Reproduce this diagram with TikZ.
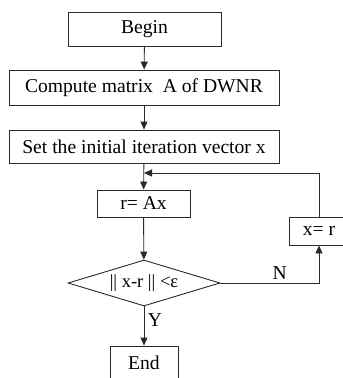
\documentclass[tikz,border=0pt]{standalone}
\usepackage{fontspec}
\setmainfont{Liberation Serif}
\usepackage{xcolor}
\usepackage{tikz}
\usetikzlibrary{arrows.meta,shapes.geometric}
\definecolor{trait}{HTML}{2A2A2A}
\tikzset{
  bloc/.style={
    rectangle, draw=trait, fill=white, line width=0.9pt,
    align=center, inner sep=0pt, font=\fontsize{19.6}{22}\selectfont},
  decision/.style={
    diamond, aspect=3.3, draw=trait, fill=white, line width=0.9pt,
    inner sep=0pt, minimum width=152pt, minimum height=46pt,
    font=\fontsize{18.5}{21}\selectfont},
  fleche/.style={-{Triangle[length=8pt,width=7pt]}, draw=trait, line width=0.9pt},
  etiquette/.style={font=\fontsize{19.6}{22}\selectfont}
}
\begin{document}
\begin{tikzpicture}[x=1pt,y=-1pt]
  \clip (0,0) rectangle (343,378);

  % --- Colonne principale
  \node[bloc, minimum width=153pt, minimum height=34pt] (B) at (144.5, 29)  {Begin};
  \node[bloc, minimum width=270pt, minimum height=35pt] (C) at (144, 87.5)  {Compute matrix\ \ A of DWNR};
  \node[bloc, minimum width=270pt, minimum height=33pt] (I) at (144, 146.5) {Set the initial iteration vector x};
  \node[bloc, minimum width=93pt,  minimum height=27pt] (R) at (143.5, 203.5) {r= Ax};
  \node[decision]                                      (T) at (144, 283)   {|| x-r || <ε};
  \node[bloc, minimum width=68pt,  minimum height=34pt] (E) at (144, 363)   {End};

  % --- Boucle de mise a jour
  \node[bloc, minimum width=60pt,  minimum height=28pt] (X) at (319, 231)   {x= r};
  \coordinate (J) at (144, 173);

  \draw[fleche] (B) -- (C);
  \draw[fleche] (C) -- (I);
  \draw[fleche] (I) -- (R);
  \draw[fleche] (R) -- (T);
  \draw[fleche] (T) -- node[etiquette, right, pos=0.35] {Y} (E);
  \draw[fleche] (T.east) -| node[etiquette, above, pos=0.3] {N} (X.south);
  \draw[fleche] (X.north) |- (J);

\end{tikzpicture}
\end{document}
